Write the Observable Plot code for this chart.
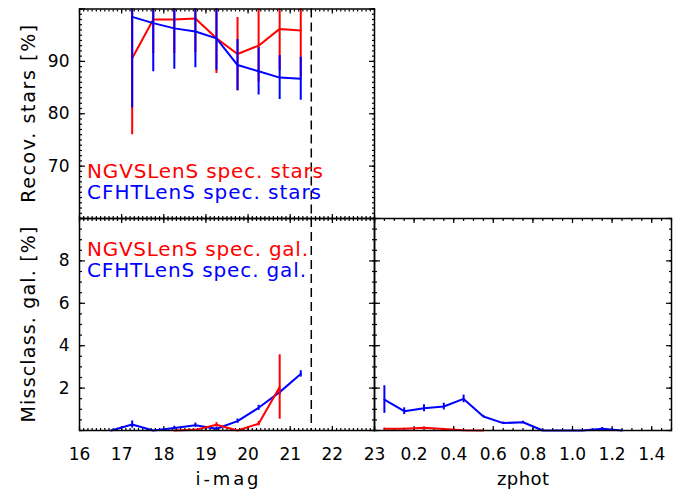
<!DOCTYPE html>
<html><head><meta charset="utf-8">
<script src="https://cdn.jsdelivr.net/npm/d3@7"></script>
<script src="https://cdn.jsdelivr.net/npm/@observablehq/plot@0.6"></script>
<style>
body{margin:0;background:#fff;}
#chart{position:relative;width:681px;height:496px;background:#fff;}
#chart svg{position:absolute;left:0;top:0;overflow:visible;background:transparent;}
</style></head>
<body><div id="chart"></div>
<script>
// ---- data ----
const magStars = [17.25,17.75,18.25,18.75,19.25,19.75,20.25,20.75,21.25];
const ngvsStars = [90.6,98.0,98.0,98.2,94.4,91.4,93.0,96.2,95.9];
const ngvsStarsErr = [14.6,6.5,6.5,6.5,6.7,7.0,7.0,8.0,9.0];
const cfhtStars = [98.5,97.3,96.3,95.7,94.4,89.3,88.1,86.9,86.7];
const cfhtStarsErr = [17.4,9.3,7.8,6.9,6.1,4.9,4.5,4.2,4.1];

const magGalCfht = [16.75,17.25,17.75,18.25,18.75,19.25,19.75,20.25,20.75,21.25];
const cfhtGal = [0,0.28,0,0.12,0.25,0.08,0.44,1.07,1.81,2.67];
const cfhtGalErr = [0,0.17,0,0.08,0.1,0.08,0.1,0.12,0.12,0.15];
const magGalNgvs = [18.25,18.75,19.25,19.75,20.25,20.75];
const ngvsGal = [0,0.03,0.27,0,0.32,2.05];
const ngvsGalErr = [0,0.03,0.1,0,0.1,1.52];

const zCfht = [0.05,0.15,0.25,0.35,0.45,0.55,0.65,0.75,0.85,0.95,1.05,1.15,1.25];
const cfhtZ = [1.46,0.91,1.05,1.13,1.49,0.66,0.35,0.39,0,0,0,0.08,0];
const cfhtZErr = [0.65,0.16,0.16,0.16,0.18,0.05,0.05,0.05,0,0,0,0.06,0];
const zNgvs = [0.05,0.15,0.25,0.35,0.45,0.55];
const ngvsZ = [0.08,0.08,0.13,0.07,0.01,0];
const ngvsZErr = [0.03,0.03,0.04,0.03,0,0];

const magLimit = 21.5;
const magTicks = [16,17,18,19,20,21,22,23];
const starTickLabels = [70,80,90];
const galTickLabels = [2,4,6,8];
const zTickLabels = [0.2,0.4,0.6,0.8,1.0,1.2,1.4];

const legendStars = ["NGVSLenS spec. stars","CFHTLenS spec. stars"];
const legendGal = ["NGVSLenS spec. gal.","CFHTLenS spec. gal."];

// ---- helpers ----
const RED = "#ff0000", BLUE = "#0000ff";
const W = 681, H = 496;
const L = 79, MID = 374, R = 671, T = 8.5, YM = 218, B = 430;
const font = "DejaVu Sans";

function rows(xs, vs, es){ return xs.map((x,i)=>({x, v:vs[i], e:es[i]})); }

function series(data, color, clip){
  return [
    Plot.ruleX(data, {x:"x", y1:d=>d.v-d.e, y2:d=>d.v+d.e, stroke:color, strokeWidth:2, clip}),
    Plot.line(data, {x:"x", y:"v", stroke:color, strokeWidth:2, clip})
  ];
}

function frameTicks(xMajor, xMinor, yMajor, yMinor, xLen, yLen){
  const t = [];
  for (const a of ["bottom","top"]) {
    t.push(Plot.axisX(xMajor, {anchor:a, tickSize:-xLen, tickFormat:()=>"", label:null, strokeWidth:1.2}));
    t.push(Plot.axisX(xMinor, {anchor:a, tickSize:-xLen/2, tickFormat:()=>"", label:null, strokeWidth:1.2}));
  }
  for (const a of ["left","right"]) {
    t.push(Plot.axisY(yMajor, {anchor:a, tickSize:-yLen, tickFormat:()=>"", label:null, strokeWidth:1.2}));
    t.push(Plot.axisY(yMinor, {anchor:a, tickSize:-yLen/2, tickFormat:()=>"", label:null, strokeWidth:1.2}));
  }
  return t;
}

const base = {width:W, height:H, style:{background:"transparent", fontFamily:font, fontSize:"17px", overflow:"visible", color:"#000"}};

// ---- panel 1: recovered stars vs i-mag ----
const p1 = Plot.plot({
  ...base,
  marginLeft:L, marginRight:W-MID, marginTop:T, marginBottom:H-YM,
  x:{domain:[16,23]}, y:{domain:[60,100]},
  marks:[
    ...frameTicks(magTicks, d3.range(16,23.001,0.1), d3.range(60,100.1,10), d3.range(60,100.1,1), 4, 6),
    Plot.axisY(starTickLabels, {anchor:"left", tickSize:0, tickPadding:10, label:null, fontSize:17}),
    Plot.ruleX([magLimit], {stroke:"black", strokeWidth:1.5, strokeDasharray:"9,5"}),
    ...series(rows(magStars, ngvsStars, ngvsStarsErr), RED, true),
    ...series(rows(magStars, cfhtStars, cfhtStarsErr), BLUE, true),
    Plot.text([legendStars[0]], {frameAnchor:"bottom-left", text:d=>d, fill:RED, fontSize:20, textAnchor:"start", dx:7.5, dy:-41}),
    Plot.text([legendStars[1]], {frameAnchor:"bottom-left", text:d=>d, fill:BLUE, fontSize:20, textAnchor:"start", dx:7.5, dy:-20}),
    Plot.text(["Recov. stars [%]"], {frameAnchor:"left", text:d=>d, rotate:-90, fontSize:19, textAnchor:"middle", dx:-51}),
    Plot.frame({stroke:"black", strokeWidth:1.5})
  ]
});

// ---- panel 2: misclassified galaxies vs i-mag ----
const p2 = Plot.plot({
  ...base,
  marginLeft:L, marginRight:W-MID, marginTop:YM, marginBottom:H-B,
  x:{domain:[16,23]}, y:{domain:[0,10]},
  marks:[
    ...frameTicks(magTicks, d3.range(16,23.001,0.1), d3.range(0,10.01,2), d3.range(0,10.01,0.5), 4, 6),
    Plot.axisY(galTickLabels, {anchor:"left", tickSize:0, tickPadding:10, label:null, fontSize:17}),
    Plot.axisX(magTicks, {anchor:"bottom", tickSize:0, tickPadding:17, label:null, fontSize:17}),
    Plot.ruleX([magLimit], {stroke:"black", strokeWidth:1.5, strokeDasharray:"9,5"}),
    ...series(rows(magGalCfht, cfhtGal, cfhtGalErr), BLUE, false),
    ...series(rows(magGalNgvs, ngvsGal, ngvsGalErr), RED, false),
    Plot.text([legendGal[0]], {frameAnchor:"top-left", text:d=>d, fill:RED, fontSize:20, textAnchor:"start", dx:7.5, dy:23}),
    Plot.text([legendGal[1]], {frameAnchor:"top-left", text:d=>d, fill:BLUE, fontSize:20, textAnchor:"start", dx:7.5, dy:44}),
    Plot.text(["Missclass. gal. [%]"], {frameAnchor:"left", text:d=>d, rotate:-90, fontSize:19, textAnchor:"middle", dx:-51}),
    Plot.text(["i-mag"], {frameAnchor:"bottom", text:d=>d, fontSize:18, dy:54}),
    Plot.frame({stroke:"black", strokeWidth:1.5})
  ]
});

// ---- panel 3: misclassified galaxies vs zphot ----
const p3 = Plot.plot({
  ...base,
  marginLeft:MID, marginRight:W-R, marginTop:YM, marginBottom:H-B,
  x:{domain:[0,1.5]}, y:{domain:[0,10]},
  marks:[
    ...frameTicks(d3.range(0,1.501,0.2), d3.range(0,1.501,0.05), d3.range(0,10.01,2), d3.range(0,10.01,0.5), 4, 6),
    Plot.axisX(zTickLabels, {anchor:"bottom", tickSize:0, tickPadding:17, label:null, fontSize:17, tickFormat:".1f"}),
    ...series(rows(zNgvs, ngvsZ, ngvsZErr), RED, false),
    ...series(rows(zCfht, cfhtZ, cfhtZErr), BLUE, false),
    Plot.text(["zphot"], {frameAnchor:"bottom", text:d=>d, fontSize:18, dy:54}),
    Plot.frame({stroke:"black", strokeWidth:1.5})
  ]
});

const c = document.getElementById("chart");
c.append(p1, p2, p3);

// stretch texts to the widths of the original wide plotting font
const textWidths = {
  "NGVSLenS spec. stars":236, "CFHTLenS spec. stars":234,
  "NGVSLenS spec. gal.":221, "CFHTLenS spec. gal.":219,
  "Recov. stars [%]":178, "Missclass. gal. [%]":196,
  "i-mag":63, "zphot":52
};
d3.select(c).selectAll("text").each(function(){
  const w = textWidths[this.textContent];
  if (w) { this.setAttribute("textLength", w); this.setAttribute("lengthAdjust", "spacing"); }
});
</script>
</body></html>
